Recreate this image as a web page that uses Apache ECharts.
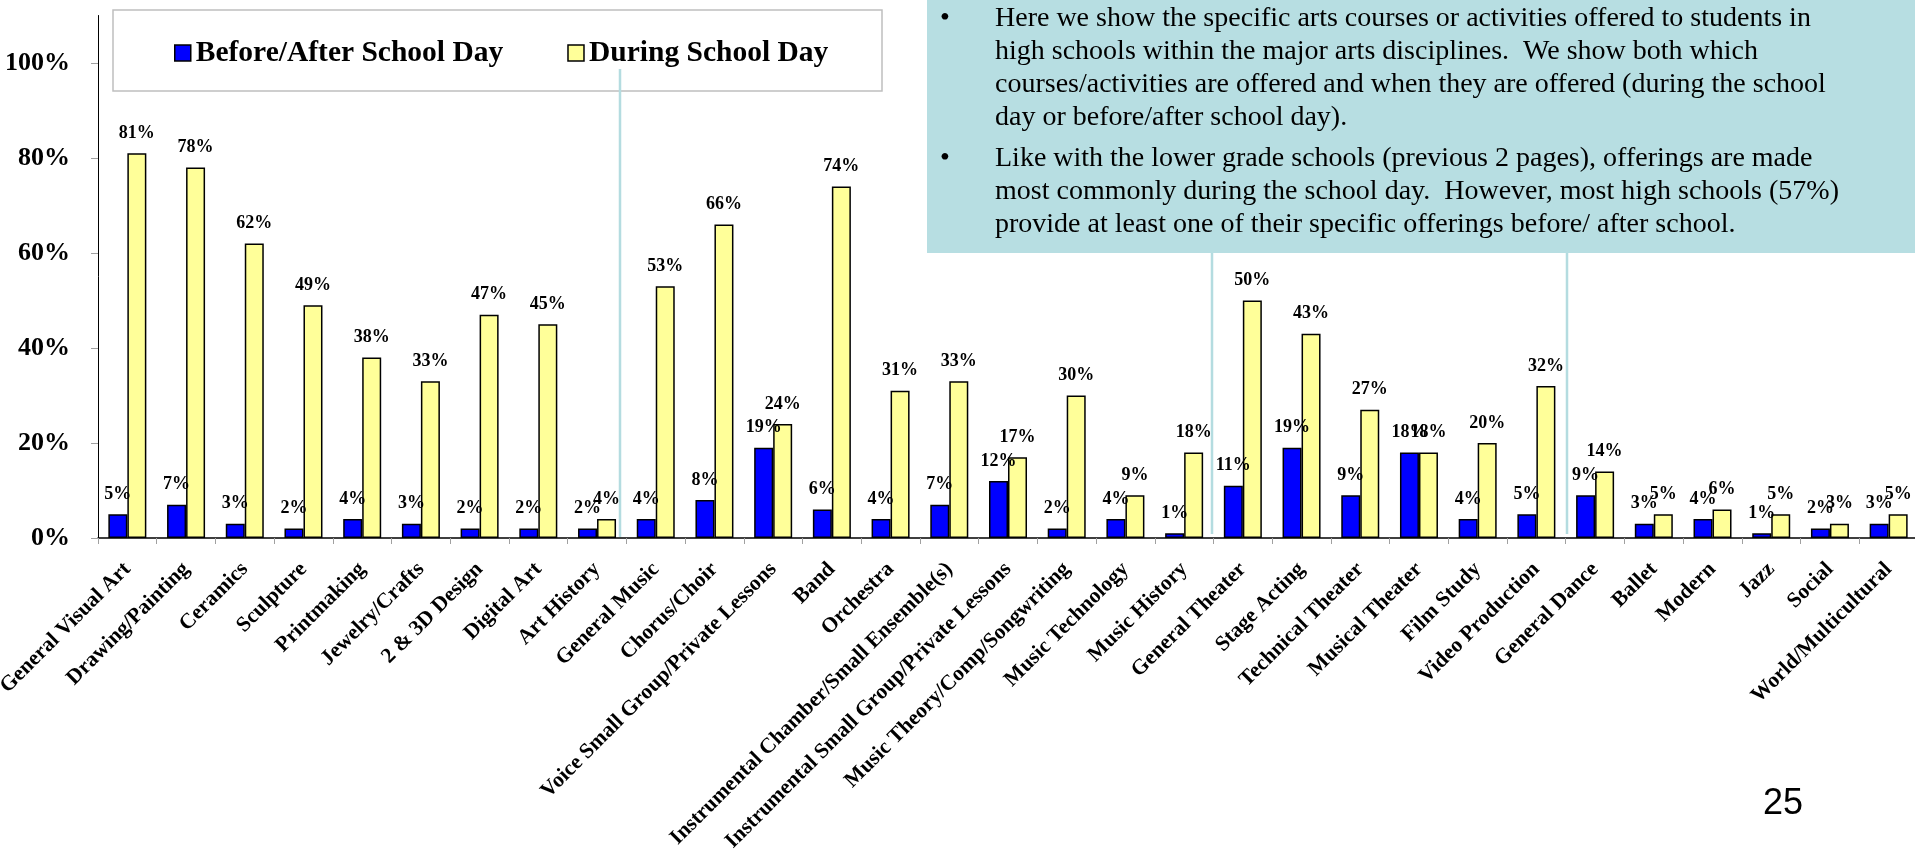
<!DOCTYPE html>
<html>
<head>
<meta charset="utf-8">
<script src="https://cdn.jsdelivr.net/npm/echarts@6/dist/echarts.min.js"></script>
<style>
html,body{margin:0;padding:0;background:#ffffff;}
#c{width:1915px;height:851px;}
</style>
</head>
<body>
<div id="c"></div>
<script>
const categories = [
  'General Visual Art','Drawing/Painting','Ceramics','Sculpture','Printmaking','Jewelry/Crafts',
  '2 & 3D Design','Digital Art','Art History','General Music','Chorus/Choir',
  'Voice Small Group/Private Lessons','Band','Orchestra','Instrumental Chamber/Small Ensemble(s)',
  'Instrumental Small Group/Private Lessons','Music Theory/Comp/Songwriting','Music Technology',
  'Music History','General Theater','Stage Acting','Technical Theater','Musical Theater',
  'Film Study','Video Production','General Dance','Ballet','Modern','Jazz','Social','World/Multicultural'
];
const beforeAfter = [5,7,3,2,4,3,2,2,2,4,8,19,6,4,7,12,2,4,1,11,19,9,18,4,5,9,3,4,1,2,3];
const during      = [81,78,62,49,38,33,47,45,4,53,66,24,74,31,33,17,30,9,18,50,43,27,18,20,32,14,5,6,5,3,5];
const seriesNames = ['Before/After School Day','During School Day'];
const yTickValues = [0,20,40,60,80,100];
const noteParagraph1 = [
  'Here we show the specific arts courses or activities offered to students in',
  'high schools within the major arts disciplines.  We show both which',
  'courses/activities are offered and when they are offered (during the school',
  'day or before/after school day).'
];
const noteParagraph2 = [
  'Like with the lower grade schools (previous 2 pages), offerings are made',
  'most commonly during the school day.  However, most high schools (57%)',
  'provide at least one of their specific offerings before/ after school.'
];
const pageNumber = '25';

const SERIF = '"Liberation Serif","Times New Roman",Times,serif';
const chart = echarts.init(document.getElementById('c'), null, {renderer:'canvas'});

const graphics = [];
graphics.push({type:'rect', z:0, shape:{x:927,y:0,width:990,height:253}, style:{fill:'#B7DEE2'}});
graphics.push({type:'rect', z:1, shape:{x:113,y:10,width:769,height:81}, style:{fill:'#ffffff', stroke:'#BFBFBF', lineWidth:1.5}});
const conn = [[620,69,620,537],[1212,253,1212,534],[1567,253,1567,534]];
conn.forEach(c => graphics.push({type:'line', z:6, shape:{x1:c[0],y1:c[1],x2:c[2],y2:c[3]}, style:{stroke:'#B4DCE0', lineWidth:2.5}}));
const lineMid1 = [19,52,85,118];
const lineMid2 = [159,192,225];
const noteFont = {fontSize:28, fontFamily:SERIF, fontWeight:'normal'};
function addLines(lines, mids){
  lines.forEach((t,i)=>{
    graphics.push({type:'text', z:7, style:Object.assign({text:t, x:995, y:mids[i], verticalAlign:'middle', align:'left', fill:'#000'}, noteFont)});
  });
  graphics.push({type:'text', z:7, style:Object.assign({text:'\u2022', x:945, y:mids[0], verticalAlign:'middle', align:'center', fill:'#000'}, noteFont)});
}
addLines(noteParagraph1, lineMid1);
addLines(noteParagraph2, lineMid2);
graphics.push({type:'text', z:7, style:{text:pageNumber, x:1763, y:804, verticalAlign:'middle', align:'left', fill:'#000', fontSize:36, fontFamily:'"Liberation Sans",Arial,Helvetica,sans-serif'}});

const labelStyle = {show:true, position:'top', distance:11, formatter:'{c}%', color:'#000', fontSize:18, fontWeight:'bold', fontFamily:SERIF};

chart.setOption({
  animation:false,
  backgroundColor:'#ffffff',
  textStyle:{fontFamily:SERIF},
  grid:{left:98, top:15.5, width:1820, height:522.5, containLabel:false, outerBoundsMode:'none'},
  legend:{
    left:174, top:38, padding:0, itemWidth:16, itemHeight:16, itemGap:64, icon:'rect', z:5,
    itemStyle:{borderColor:'#000', borderWidth:1.5},
    textStyle:{fontSize:29.5, fontWeight:'bold', fontFamily:SERIF, color:'#000'},
    data:seriesNames
  },
  xAxis:{
    type:'category', data:categories,
    axisLine:{show:true, lineStyle:{color:'#000', width:1.5}},
    axisTick:{show:true, interval:0, length:6, lineStyle:{color:'#A0A0A0', width:1}},
    axisLabel:{interval:0, rotate:45, margin:28, align:'right', verticalAlign:'middle', hideOverlap:false,
      color:'#000', fontSize:21.5, fontWeight:'bold', fontFamily:SERIF},
    splitLine:{show:false}
  },
  yAxis:{
    type:'value', min:0, max:110, interval:20,
    axisLine:{show:true, lineStyle:{color:'#000', width:1}},
    axisTick:{show:true, length:7, customValues:yTickValues, lineStyle:{color:'#A0A0A0', width:1}},
    axisLabel:{customValues:yTickValues, formatter:'{value}%', margin:28, color:'#000', fontSize:26, fontWeight:'bold', fontFamily:SERIF},
    splitLine:{show:false}
  },
  graphic:graphics,
  series:[
    {name:seriesNames[0], type:'bar', data:beforeAfter, barWidth:19, barGap:'0%', z:3,
     itemStyle:{color:'#0000FF', borderColor:'#000', borderWidth:1.5}, label:labelStyle},
    {name:seriesNames[1], type:'bar', data:during, barWidth:19, barGap:'0%', z:3,
     itemStyle:{color:'#FFFF99', borderColor:'#000', borderWidth:1.5}, label:labelStyle}
  ]
});
</script>
</body>
</html>
